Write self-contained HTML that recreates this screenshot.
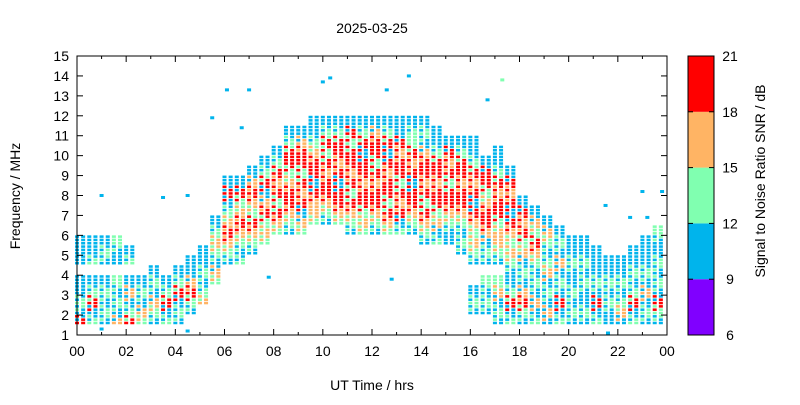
<!DOCTYPE html>
<html><head><meta charset="utf-8"><style>
body{margin:0;background:#fff}
svg text{font-family:"Liberation Sans",sans-serif;font-size:14px;fill:#000}
</style></head><body>
<svg id="c" width="800" height="400" xmlns="http://www.w3.org/2000/svg">
<rect width="800" height="400" fill="#fff"/>
<text x="372" y="33" text-anchor="middle">2025-03-25</text>
<text x="372" y="390" text-anchor="middle">UT Time / hrs</text>
<text transform="translate(20,196) rotate(-90)" text-anchor="middle">Frequency / MHz</text>
<text transform="translate(765,181) rotate(-90)" text-anchor="middle">Signal to Noise Ratio SNR / dB</text>
<g id="marks"></g>
<g id="axes"></g>
<g id="cbar"></g>
</svg>
<script>
// half-hour columns starting 00:00; each char = 0.5 MHz band starting at 1.0 MHz
const times = [];
for (let i = 0; i < 48; i++) times.push(i * 0.5);
const bands = [
".rbgbb.bbb", ".gbrgb.gbb", ".bgbgb.bgb", ".obgbg.bbg", ".rgbob.gb", ".gobgb",
".bgobgb", ".gbrgb", ".bgbrgb", "..bgrobb", "...ogbgbb", ".....gobgogb",
".......bgorogbrb", ".......gbgorogrb", "........bgorgorob", ".........gogrobrgb",
"..........gorgrorgb", "..........bgorrogrrgb", "..........gobrorgrrob", "...........goorbrrogbb",
"...........bgorrorgrgb", "...........gorrbrorrgb", "..........bgorgrorrgrb", "..........gogrrorrbrgb",
"..........bgorrorgrrob", "..........gorgrrorbrgb", "..........gbrorgrrorbb", "..........bgorrbrorggb",
".........bgorgrorrobgb", ".........gbogrrorrgbb", ".........bbgorrgrorb", "........bgbgorrorrgb",
"..bgb..bgogorbrorgbb", "..bgbg.bgborrogrrb", ".bgbog.bgoogrrorgbb", ".gbrgbbgogorbrorb",
".bgrobgbogrorb", ".gbobgbgorgob", ".bobgbogbgob", ".gbrbgbobgb",
".bgbgbbgbb", ".bgbbgbgbb", ".gbrbgbbb", ".bbgbgbb",
".bogbgbb", ".gbrgbgbb", ".bgbobgbbb", ".bgrbgbgbbg"
];
const outT = [1.0,5.5,6.1,7.0,10.0,10.3,13.5,17.3,16.7,3.5,4.5,23.0,23.8,21.5,22.5,23.2,12.6,6.7,7.8,12.8,4.5,1.0,21.6];
const outF = [8.0,11.9,13.3,13.3,13.7,13.9,14.0,13.8,12.8,7.9,8.0,8.2,8.2,7.5,6.9,6.9,13.3,11.4,3.9,3.8,1.2,1.3,1.1];
const outC = "bbbbbbbgbbbbbbbbbbbbbbb";
const xTicks = ["00","02","04","06","08","10","12","14","16","18","20","22","00"];
const yTicks = [1,2,3,4,5,6,7,8,9,10,11,12,13,14,15];
const cbTicks = [6,9,12,15,18,21];

const X0=77,X1=667,Y0=335,Y1=56;
const xs=t=>X0+(t/24)*(X1-X0);
const ys=f=>Y0-(f-1)/14*(Y0-Y1);
const col={p:"#8000ff",b:"#00b4ec",g:"#80ffb0",o:"#ffb464",r:"#ff0000"};
const NS="http://www.w3.org/2000/svg";
function mk(tag,attrs,parent){const e=document.createElementNS(NS,tag);for(const k in attrs)e.setAttribute(k,attrs[k]);parent.appendChild(e);return e;}
const marks=document.getElementById('marks');
times.forEach((t,i)=>{
  const s=bands[i];
  for(let j=0;j<s.length;j++){
    const c=s[j]; if(c==='.')continue;
    const f=1+j*0.5;
    const nb=(s[j+1]&&s[j+1]!=='.')?s[j+1]:c;
    const top=ys(f+0.5), h=(ys(f)-top)/3;
    [0,0.25].forEach((dt,k)=>{
      for(let q=0;q<3;q++){
        const cc=(q===1-(k===1?0:0)+ (k) % 2 ? nb : c);
        const r=mk('rect',{x:xs(t+dt)-2,y:top+q*h,width:4,height:h-0.8,fill:col[(q+k)%3===1?nb:c]},marks);
        
        
      }
    });
  }
});
outT.forEach((t,i)=>{
  const r=mk('rect',{x:xs(t)-2,y:ys(outF[i])-1.5,width:4,height:3,fill:col[outC[i]]},marks);
  
  
});
const ax=document.getElementById('axes');
mk('rect',{x:X0,y:Y1,width:X1-X0,height:Y0-Y1,fill:'none',stroke:'#000','stroke-width':1},ax);
for(let h=0;h<=24;h++){
  const x=xs(h), L=h%2===0?6:3;
  mk('line',{x1:x,y1:Y0,x2:x,y2:Y0-L,stroke:'#000'},ax);
  mk('line',{x1:x,y1:Y1,x2:x,y2:Y1+L,stroke:'#000'},ax);
}
xTicks.forEach((l,i)=>{
  const tx=mk('text',{x:xs(i*2),y:Y0+21,'text-anchor':'middle'},ax);tx.textContent=l;
  
  
});
yTicks.forEach(v=>{
  const y=ys(v);
  mk('line',{x1:X0,y1:y,x2:X0+6,y2:y,stroke:'#000'},ax);
  mk('line',{x1:X1,y1:y,x2:X1-6,y2:y,stroke:'#000'},ax);
  const tx=mk('text',{x:X0-8,y:y+5,'text-anchor':'end'},ax);tx.textContent=v;
  
  
});
const cb=document.getElementById('cbar');
const cbCols=["p","b","g","o","r"];
const CX=688,CW=26,cy=v=>Y0-(v-6)/15*(Y0-Y1);
cbCols.forEach((c,i)=>{
  const r=mk('rect',{x:CX,y:cy(cbTicks[i+1]),width:CW,height:cy(cbTicks[i])-cy(cbTicks[i+1]),fill:col[c]},cb);
  
  
});
mk('rect',{x:CX,y:Y1,width:CW,height:Y0-Y1,fill:'none',stroke:'#000'},cb);
cbTicks.forEach(v=>{
  const y=cy(v);
  mk('line',{x1:CX,y1:y,x2:CX+5,y2:y,stroke:'#000'},cb);
  mk('line',{x1:CX+CW,y1:y,x2:CX+CW-5,y2:y,stroke:'#000'},cb);
  const tx=mk('text',{x:CX+CW+16,y:y+5,'text-anchor':'middle'},cb);tx.textContent=v;
  
  
});
</script>
</body></html>
